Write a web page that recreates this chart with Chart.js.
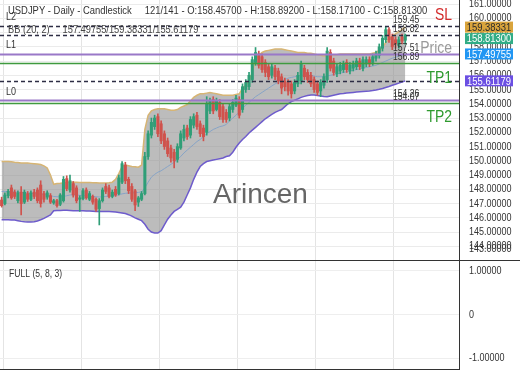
<!DOCTYPE html>
<html>
<head>
<meta charset="utf-8">
<script src="https://cdn.jsdelivr.net/npm/chart.js@4.4.1/dist/chart.umd.min.js"></script>
<style>
body { margin: 0; background: #fff; }
#wrap { position: relative; width: 520px; height: 390px; overflow: hidden; }
canvas { position: absolute; left: 0; }
</style>
</head>
<body>
<div id="wrap">
<canvas id="main" width="520" height="260" style="top:0"></canvas>
<canvas id="osc" width="520" height="110" style="top:260px"></canvas>
</div>
<script>
// daily USDJPY candles
const slotCount = 141;

const opens = [
    147.25, 147.0, 147.55, 148.1, 147.8, 147.2, 147.8, 147.1, 147.7, 147.3,
    147.8, 147.95, 148.3, 147.7, 147.45, 147.55, 147.05, 147.2, 146.95, 147.2,
    148.75, 147.95, 148.4, 148.1, 147.3, 147.35, 147.95, 147.3, 147.5, 147.3,
    146.65, 147.2, 148.2, 148.1, 147.5, 148.0, 147.7, 148.5, 149.7, 148.7,
    148.2, 147.9, 147.1, 147.3, 147.7, 150.3, 151.8, 152.4, 153.1, 152.6,
    151.9, 151.4, 150.9, 150.6, 150.1, 150.9, 151.6, 152.3, 151.8, 152.5,
    153.2, 152.6, 152.3, 152.0, 153.5, 154.3, 153.6, 154.1, 153.8, 153.4,
    153.0, 153.6, 153.9, 154.3, 153.6, 155.0, 155.2, 155.7, 156.9, 157.5,
    157.3, 156.9, 156.6, 156.0, 156.5, 156.3, 155.9, 155.6, 155.5, 155.4,
    154.9, 155.4, 155.6, 156.5, 156.2, 156.0, 155.7, 155.4, 154.9, 155.3,
    155.7, 157.6, 157.0, 156.1, 156.3, 156.4, 156.9, 156.3, 156.5, 156.6,
    157.0, 156.5, 156.8, 157.1, 156.9, 157.2, 157.4, 157.9, 158.5, 159.2,
    158.7, 158.5, 158.1, 158.7, 158.457
];
const highs = [
    147.45, 147.75, 148.0, 148.3, 147.95, 147.9, 148.2, 147.95, 147.85, 147.9,
    148.0, 148.1, 148.6, 147.85, 147.9, 147.7, 147.3, 147.3, 147.7, 148.9,
    148.95, 149.0, 148.55, 148.25, 147.55, 148.05, 148.1, 147.85, 147.6, 147.4,
    147.35, 148.1, 148.4, 148.3, 147.95, 148.2, 149.0, 149.95, 149.9, 148.85,
    148.4, 148.0, 147.5, 147.85, 150.6, 152.1, 153.0, 153.2, 153.3, 152.8,
    152.1, 151.6, 151.1, 150.8, 151.2, 152.1, 152.5, 152.5, 153.1, 153.3,
    153.4, 152.8, 152.5, 154.5, 154.4, 154.5, 154.4, 154.3, 154.0, 153.6,
    154.0, 154.3, 154.6, 154.5, 155.4, 155.7, 156.2, 157.3, 157.95, 157.7,
    157.5, 157.1, 156.8, 156.8, 156.7, 156.5, 156.1, 155.8, 155.7, 155.6,
    155.7, 156.2, 157.0, 156.7, 156.4, 156.2, 155.9, 155.6, 155.7, 156.1,
    157.95, 157.8, 157.2, 156.8, 156.9, 157.0, 157.1, 156.9, 157.0, 157.2,
    157.2, 157.3, 157.3, 157.3, 157.5, 157.7, 158.2, 158.8, 159.4, 159.35,
    158.9, 158.7, 158.7, 158.9, 158.892
];
const lows = [
    146.75, 146.9, 147.4, 147.3, 147.35, 147.05, 146.2, 147.0, 147.15, 147.2,
    147.35, 147.05, 146.75, 147.1, 147.3, 147.0, 146.95, 146.75, 146.85, 147.1,
    147.9, 147.8, 147.45, 147.05, 146.45, 147.25, 147.3, 147.2, 146.95, 146.45,
    145.5, 147.1, 147.7, 147.4, 147.4, 147.5, 147.6, 148.4, 148.4, 147.7,
    147.15, 146.5, 146.8, 147.2, 147.6, 150.1, 151.6, 152.2, 151.7, 151.2,
    150.8, 150.3, 149.9, 149.5, 149.9, 150.8, 151.4, 151.5, 151.6, 152.3,
    152.2, 151.7, 151.4, 151.8, 153.3, 153.3, 153.5, 152.9, 152.7, 152.7,
    152.8, 153.4, 153.8, 153.0, 153.4, 154.8, 155.0, 155.5, 156.7, 156.5,
    156.2, 155.9, 155.7, 155.8, 155.7, 155.4, 154.7, 154.9, 154.6, 154.4,
    154.7, 155.2, 155.4, 155.7, 155.5, 155.2, 154.8, 154.6, 154.5, 155.1,
    155.5, 156.3, 156.0, 155.9, 156.1, 156.2, 156.2, 156.1, 156.3, 156.4,
    156.4, 156.3, 156.6, 156.6, 156.7, 157.0, 157.2, 157.7, 158.3, 158.3,
    157.8, 157.9, 157.9, 158.2, 158.171
];
const closes = [
    146.85, 147.6, 147.85, 147.4, 147.5, 147.75, 147.0, 147.8, 147.3, 147.75,
    147.5, 147.2, 147.0, 147.3, 147.75, 147.1, 147.2, 146.85, 147.6, 148.7,
    148.05, 148.6, 147.6, 147.2, 147.4, 147.9, 147.4, 147.7, 147.1, 146.6,
    147.2, 147.95, 147.85, 147.5, 147.8, 147.6, 148.8, 149.8, 148.6, 147.9,
    147.3, 146.9, 147.4, 147.7, 150.3, 151.9, 152.7, 153.0, 151.9, 151.4,
    151.0, 150.5, 150.2, 150.0, 151.0, 151.9, 152.2, 151.7, 152.9, 153.1,
    152.4, 151.9, 151.7, 154.0, 154.2, 153.5, 154.2, 153.1, 152.9, 152.9,
    153.8, 154.1, 154.4, 153.2, 155.2, 155.5, 156.0, 157.1, 157.6, 156.7,
    156.4, 156.2, 155.9, 156.6, 155.9, 155.6, 155.1, 155.2, 154.9, 154.7,
    155.5, 156.0, 156.8, 155.9, 155.7, 155.4, 155.0, 154.8, 155.5, 155.9,
    157.7, 156.5, 156.2, 156.6, 156.7, 156.8, 156.4, 156.7, 156.8, 157.0,
    156.6, 157.1, 157.1, 156.8, 157.3, 157.5, 158.0, 158.6, 159.2, 158.5,
    158.0, 158.2, 158.5, 158.4, 158.813
];

// Bollinger (20, 2)
const bbUpper = [
    149.95, 149.95, 149.95, 149.93, 149.9, 149.88, 149.85, 149.84, 149.84, 149.82,
    149.8, 149.78, 149.74, 149.65, 149.5, 149.0, 148.35, 148.4, 148.42, 148.45,
    148.48, 148.5, 148.5, 148.5, 148.48, 148.48, 148.47, 148.47, 148.46, 148.46,
    148.45, 148.45, 148.45, 148.46, 148.5, 148.7, 149.1, 149.6, 149.7, 149.65,
    149.6, 149.58, 149.55, 149.7, 152.2, 153.2, 153.5, 153.6, 153.65, 153.65,
    153.65, 153.6, 153.55, 153.55, 153.6, 153.75, 153.85, 153.95, 154.2, 154.45,
    154.6, 154.7, 154.7, 154.75, 154.8, 154.75, 154.7, 154.65, 154.6, 154.6,
    154.6, 154.6, 154.65, 154.7, 155.1, 155.3, 155.6, 156.2, 157.1, 157.4,
    157.6, 157.7, 157.75, 157.8, 157.85, 157.85, 157.85, 157.8, 157.75, 157.7,
    157.65, 157.6, 157.6, 157.6, 157.55, 157.55, 157.5, 157.45, 157.4, 157.35,
    157.4, 157.45, 157.45, 157.45, 157.5, 157.5, 157.5, 157.5, 157.5, 157.5,
    157.5, 157.5, 157.5, 157.5, 157.55, 157.6, 157.75, 157.95, 158.3, 158.55,
    158.75, 158.9, 159.05, 159.2, 159.38331
];
const bbMiddle = [
    147.85, 147.85, 147.84, 147.83, 147.82, 147.8, 147.78, 147.76, 147.74, 147.72,
    147.7, 147.68, 147.66, 147.64, 147.6, 147.55, 147.5, 147.48, 147.47, 147.5,
    147.55, 147.6, 147.62, 147.6, 147.58, 147.56, 147.55, 147.53, 147.5, 147.48,
    147.46, 147.47, 147.5, 147.53, 147.55, 147.58, 147.62, 147.68, 147.72, 147.74,
    147.75, 147.76, 147.78, 147.82, 148.1, 148.5, 148.85, 149.05, 149.2, 149.3,
    149.45, 149.6, 149.75, 149.9, 150.1, 150.3, 150.55, 150.75, 150.95, 151.15,
    151.35, 151.5, 151.7, 151.9, 152.05, 152.2, 152.3, 152.4, 152.45, 152.55,
    152.8, 153.0, 153.2, 153.45, 153.7, 153.9, 154.1, 154.3, 154.5, 154.65,
    154.8, 154.95, 155.1, 155.25, 155.4, 155.5, 155.6, 155.7, 155.8, 155.85,
    155.9, 155.95, 156.0, 156.0, 156.0, 156.0, 155.95, 155.9, 155.9, 155.9,
    155.95, 156.0, 156.05, 156.1, 156.15, 156.2, 156.25, 156.3, 156.35, 156.4,
    156.45, 156.5, 156.55, 156.6, 156.65, 156.7, 156.8, 156.9, 157.0, 157.1,
    157.2, 157.27, 157.35, 157.42, 157.49755
];
const bbLower = [
    145.86, 145.86, 145.86, 145.85, 145.84, 145.8, 145.75, 145.72, 145.7, 145.7,
    145.72, 145.78, 145.86, 145.96, 146.08, 146.2, 146.5, 146.52, 146.52, 146.53,
    146.53, 146.52, 146.5, 146.5, 146.5, 146.5, 146.48, 146.47, 146.46, 146.45,
    146.44, 146.44, 146.44, 146.44, 146.43, 146.4, 146.37, 146.34, 146.3, 146.22,
    146.12, 146.0, 145.9, 145.8, 145.55, 145.2, 145.0, 144.93, 144.93, 145.1,
    145.5, 145.9, 146.2, 146.45, 146.6, 146.75, 147.1, 147.6, 148.1, 148.7,
    149.2, 149.6, 149.8, 149.95, 150.0, 150.05, 150.1, 150.15, 150.2, 150.3,
    150.35, 150.6, 150.95, 151.25, 151.5, 151.7, 151.95, 152.15, 152.35, 152.55,
    152.75, 152.95, 153.1, 153.25, 153.4, 153.5, 153.6, 153.8, 154.0, 154.15,
    154.25, 154.35, 154.45, 154.52, 154.58, 154.62, 154.62, 154.58, 154.55, 154.52,
    154.5, 154.55, 154.6, 154.65, 154.7, 154.72, 154.75, 154.78, 154.8, 154.82,
    154.84, 154.86, 154.88, 154.9, 154.93, 154.97, 155.02, 155.08, 155.15, 155.22,
    155.3, 155.37, 155.45, 155.53, 155.61179
];

// horizontal levels and the right-axis value tags
const levels = [159.45, 158.82, 157.51, 156.89, 155.61, 154.26, 154.07];
const levelLabels = ['159.45', '158.82', '157.51', '156.89', '', '154.26', '154.07'];
const tagValues = [159.38331, 158.81300, 157.49755, 155.61179];

// no narrow face installed, so text is squeezed by hand
const sans = "'Liberation Sans', Arial, sans-serif";
const SQUEEZE = 0.82;
const UP = '#2f9e77', DOWN = '#d0524c';

let slots = [];
for (let i = 0; i < slotCount; i++) slots.push(String(i + 1));

let candleColors = opens.map((o, i) => closes[i] >= o ? UP : DOWN);

let levelStyle = [
    { color: '#2d2d44', width: 1.5, dash: [4, 3] },
    { color: '#2d2d44', width: 1.5, dash: [4, 3] },
    { color: '#9a78c8', width: 2, dash: [] },
    { color: '#3f9a3f', width: 1.5, dash: [] },
    { color: '#2d2d44', width: 1.5, dash: [4, 3] },
    { color: '#9a78c8', width: 2, dash: [] },
    { color: '#3f9a3f', width: 1.5, dash: [] }
];
let tagStyle = [
    { bg: '#d9a43c', fg: '#2a2a2a' },
    { bg: '#31ad86', fg: '#ffffff' },
    { bg: '#2196f3', fg: '#ffffff' },
    { bg: '#6b4fe3', fg: '#ffffff' }
];

let xScale = () => ({
    type: 'category',
    offset: true,
    ticks: { display: false, autoSkip: false },
    grid: {
        offset: true,
        drawTicks: false,
        color: (c) => c.index % 24 === 1 ? '#e4e4e4' : 'rgba(0,0,0,0)'
    },
    border: { display: false },
    afterFit: (s) => { s.height = 0; }
});

let text = (ctx, str, x, y, size, color, align, squeeze) => {
    ctx.save();
    ctx.font = `${size}px ${sans}`;
    ctx.fillStyle = color;
    ctx.textAlign = align || 'left';
    ctx.translate(x, y);
    ctx.scale(squeeze === undefined ? SQUEEZE : squeeze, 1);
    ctx.fillText(str, 0, 0);
    ctx.restore();
};

let overlay = {
    id: 'overlay',
    afterDatasetsDraw(chart) {
        let { ctx, chartArea: a, scales: { y } } = chart;
        ctx.save();
        levels.forEach((v, i) => {
            let py = Math.round(y.getPixelForValue(v)) + 0.5;
            ctx.strokeStyle = levelStyle[i].color;
            ctx.lineWidth = levelStyle[i].width;
            ctx.setLineDash(levelStyle[i].dash);
            ctx.beginPath();
            ctx.moveTo(a.left, py);
            ctx.lineTo(a.right, py);
            ctx.stroke();
        });
        ctx.setLineDash([]);
        ctx.textBaseline = 'alphabetic';
        levels.forEach((v, i) => {
            if (levelLabels[i]) text(ctx, levelLabels[i], 393, y.getPixelForValue(v) - 3, 10.5, '#333');
        });
        text(ctx, 'L2', 6, y.getPixelForValue(levels[0]) - 6, 11, '#333');
        text(ctx, 'L1', 6, y.getPixelForValue(levels[2]) - 6, 11, '#333');
        text(ctx, 'L0', 6, y.getPixelForValue(levels[5]) - 5, 11, '#333');
        text(ctx, 'SL', 452, y.getPixelForValue(levels[0]) - 6, 17, '#d42b2b', 'right');
        text(ctx, 'TP1', 452, y.getPixelForValue(levels[3]) + 20, 17, '#2f9a2f', 'right');
        text(ctx, 'TP2', 452, y.getPixelForValue(levels[6]) + 19, 17, '#2f9a2f', 'right');
        text(ctx, 'Price', 452, 53, 17, '#9a9a9a', 'right');
        text(ctx, 'Arincen', 213, 203, 28, '#666', 'left', 1);
        ctx.restore();
    },
    afterDraw(chart) {
        let { ctx, scales: { y } } = chart;
        ctx.save();
        ctx.textBaseline = 'alphabetic';
        text(ctx, 'USDJPY - Daily - Candlestick     121/141 - O:158.45700 - H:158.89200 - L:158.17100 - C:158.81300',
            8, 14, 11.5, '#333');
        text(ctx, 'BB (20, 2)     157.49755/159.38331/155.61179', 8, 33, 11.3, '#444');
        ctx.textBaseline = 'middle';
        y.ticks.forEach((t) => {
            text(ctx, t.value.toFixed(5), 469, y.getPixelForValue(t.value), 11, '#333');
        });
        text(ctx, '143.00000', 469, 249, 11, '#333');
        let prevBottom = -99;
        tagValues.forEach((v, i) => {
            let top = Math.max(y.getPixelForValue(v) - 5.5, prevBottom + 0.5);
            prevBottom = top + 11;
            ctx.fillStyle = tagStyle[i].bg;
            ctx.fillRect(465, top, 48, 11);
            text(ctx, v.toFixed(5), 489, top + 6, 11.5, tagStyle[i].fg, 'center');
        });
        ctx.restore();
    }
};

let mainChart = new Chart(document.querySelector('#main').getContext('2d'), {
    type: 'bar',
    data: {
        labels: slots,
        datasets: [
            {
                type: 'bar', data: opens.map((o, i) => [o, closes[i]]),
                backgroundColor: candleColors, barThickness: 2.4, grouped: false, borderWidth: 0, order: 1
            },
            {
                type: 'bar', data: lows.map((l, i) => [l, highs[i]]),
                backgroundColor: candleColors, barThickness: 1, grouped: false, borderWidth: 0, order: 2
            },
            {
                type: 'line', data: bbUpper, borderColor: '#d7b574', borderWidth: 1.5,
                pointRadius: 0, fill: false, order: 5
            },
            {
                type: 'line', data: bbMiddle, borderColor: '#86a3c6', borderWidth: 1,
                pointRadius: 0, fill: false, order: 4
            },
            {
                type: 'line', data: bbLower, borderColor: '#6e5ccc', borderWidth: 1.5,
                pointRadius: 0, fill: 2, backgroundColor: 'rgba(140,140,140,0.58)', order: 6
            }
        ]
    },
    options: {
        responsive: false,
        animation: false,
        events: [],
        layout: { padding: 0 },
        plugins: { legend: { display: false }, tooltip: { enabled: false } },
        scales: {
            x: xScale(),
            y: {
                position: 'right',
                min: 143.04,
                max: 161.284,
                ticks: { display: false, stepSize: 1, includeBounds: false, autoSkip: false },
                grid: { color: '#ebebeb', drawTicks: false },
                border: { display: true, color: '#333' },
                afterFit: (s) => { s.width = 61; s.paddingTop = 0; s.paddingBottom = 0; }
            }
        }
    },
    plugins: [overlay]
});

let oscFrame = {
    id: 'oscFrame',
    afterDraw(chart) {
        let { ctx, scales: { y } } = chart;
        ctx.save();
        ctx.strokeStyle = '#333';
        ctx.lineWidth = 1;
        ctx.beginPath();
        ctx.moveTo(0, 0.5);
        ctx.lineTo(520, 0.5);
        ctx.stroke();
        ctx.textBaseline = 'alphabetic';
        text(ctx, 'FULL (5, 8, 3)', 9, 17, 10.5, '#333');
        ctx.textBaseline = 'middle';
        y.ticks.forEach((t) => {
            let s = t.value === 0 ? '0' : t.value.toFixed(5);
            text(ctx, s, 469, y.getPixelForValue(t.value), 11, '#333');
        });
        ctx.restore();
    }
};

let oscChart = new Chart(document.querySelector('#osc').getContext('2d'), {
    type: 'line',
    data: { labels: slots, datasets: [] },
    options: {
        responsive: false,
        animation: false,
        events: [],
        layout: { padding: { bottom: 1 } },
        plugins: { legend: { display: false }, tooltip: { enabled: false } },
        scales: {
            x: Object.assign(xScale(), { border: { display: true, color: '#333' } }),
            y: {
                position: 'right',
                min: -1.25,
                max: 1.25,
                ticks: { display: false, stepSize: 1, includeBounds: false, autoSkip: false },
                grid: { color: '#eeeeee', drawTicks: false },
                border: { display: true, color: '#333' },
                afterFit: (s) => { s.width = 61; s.paddingTop = 0; s.paddingBottom = 0; }
            }
        }
    },
    plugins: [oscFrame]
});
</script>
</body>
</html>
